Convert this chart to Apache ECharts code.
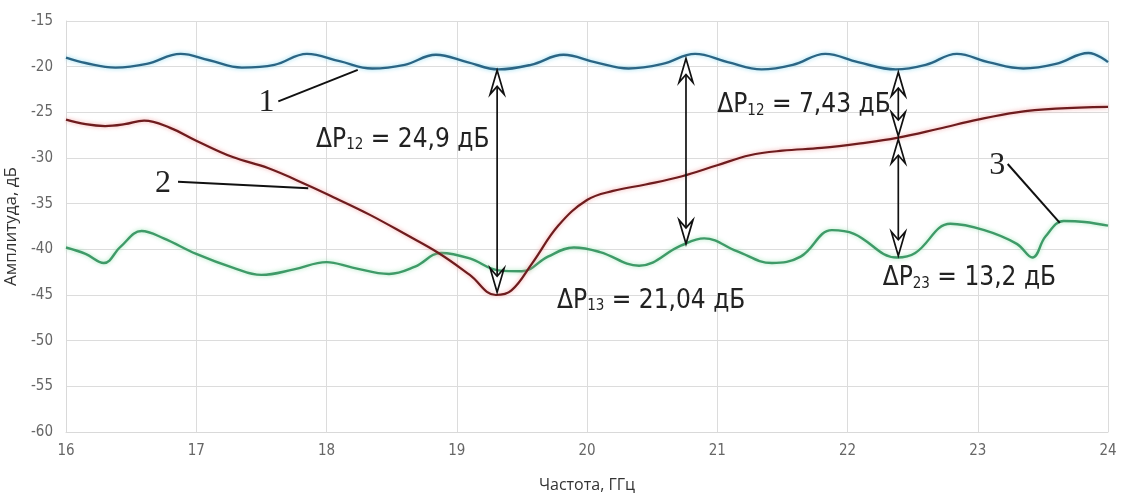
<!DOCTYPE html>
<html><head><meta charset="utf-8">
<script src="https://cdn.jsdelivr.net/npm/echarts@6/dist/echarts.min.js"></script>
<style>html,body{margin:0;padding:0;background:#fff}#c{width:1123px;height:495px}</style>
</head><body><div id="c"></div>
<script>
// Curve 1 (blue)
const blueFreq=[16.0,16.15,16.38,16.62,16.88,17.1,17.35,17.6,17.85,18.1,18.35,18.6,18.84,19.08,19.32,19.57,19.82,20.06,20.32,20.58,20.83,21.08,21.34,21.58,21.83,22.08,22.37,22.6,22.84,23.08,23.35,23.6,23.85,24.0];
const blueAmp=[-19.0,-19.6,-20.1,-19.7,-18.6,-19.3,-20.1,-19.8,-18.6,-19.4,-20.2,-19.8,-18.7,-19.5,-20.3,-19.8,-18.7,-19.5,-20.2,-19.7,-18.6,-19.5,-20.3,-19.8,-18.6,-19.5,-20.3,-19.8,-18.6,-19.5,-20.2,-19.7,-18.5,-19.5];
// Curve 2 (red)
const redFreq=[16.0,16.15,16.3,16.45,16.6,16.8,17.0,17.28,17.55,17.86,18.07,18.33,18.6,18.86,19.1,19.3,19.42,19.58,19.78,20.0,20.2,20.45,20.73,21.0,21.25,21.5,21.8,22.1,22.38,22.7,23.0,23.3,23.6,24.0];
const redAmp=[-25.8,-26.3,-26.5,-26.3,-25.9,-26.7,-28.1,-29.9,-31.1,-33.0,-34.4,-36.2,-38.3,-40.4,-42.8,-45.0,-44.5,-41.5,-37.4,-34.6,-33.6,-32.9,-32.0,-30.8,-29.7,-29.2,-28.9,-28.4,-27.8,-26.8,-25.8,-25.0,-24.6,-24.4];
// Curve 3 (green)
const greenFreq=[16.0,16.15,16.29,16.42,16.58,16.75,17.0,17.28,17.5,17.75,18.0,18.2,18.48,18.68,18.88,19.1,19.32,19.5,19.7,19.9,20.1,20.4,20.72,20.9,21.15,21.42,21.64,21.88,22.05,22.38,22.52,22.79,23.05,23.3,23.42,23.52,23.66,23.82,24.0];
const greenAmp=[-39.8,-40.5,-41.5,-39.7,-38.0,-38.8,-40.5,-42.0,-42.8,-42.2,-41.4,-42.0,-42.7,-41.9,-40.4,-41.0,-42.3,-42.4,-40.8,-39.8,-40.3,-41.8,-39.6,-38.8,-40.2,-41.5,-40.8,-37.9,-38.3,-40.9,-40.4,-37.2,-37.9,-39.4,-40.9,-38.6,-36.9,-37.0,-37.4];

// Measurement arrows
const arrowX=[19.31,20.76,22.39,22.39];
const arrowTop=[-20.4,-19.1,-20.6,-27.95];
const arrowBottom=[-44.7,-39.4,-27.6,-40.7];

// Measurement labels
const labelSub=['12','12','13','23'];
const labelValue=[' = 24,9 дБ',' = 7,43 дБ',' = 21,04 дБ',' = 13,2 дБ'];
const labelX=[17.92,21.0,19.77,22.27];
const labelY=[-27.9,-24.1,-45.55,-43.1];

// Curve numbers with leaders
const numText=['1','2','3'];
const numX=[17.54,16.745,23.15];
const numY=[-23.9,-32.85,-30.8];
const leadX1=[17.63,16.86,23.23], leadY1=[-23.8,-32.6,-30.66];
const leadX2=[18.24,17.86,23.63], leadY2=[-20.35,-33.3,-37.1];

const zip=(a,b)=>a.map((v,i)=>[v,b[i]]);
const chart=echarts.init(document.getElementById('c'));
const condensed='"Liberation Sans Narrow","DejaVu Sans Condensed","Open Sans",sans-serif';

function head(x,y,dir){ // dir=-1 up, +1 down
  return {type:'polygon',shape:{points:[[x,y],[x-7,y-dir*24],[x,y-dir*16],[x+7,y-dir*24]]},
    style:{fill:'rgba(255,255,255,0.7)',stroke:'#111',lineWidth:1.7}};
}

const arrowData=arrowX.map((x,i)=>[x,arrowTop[i],arrowBottom[i]]);
const labelData=labelX.map((x,i)=>[x,labelY[i],i]);
const numData=numX.map((x,i)=>[x,numY[i],i]);

chart.setOption({
  animation:false,
  grid:{left:66,right:15,top:21,bottom:63,outerBoundsMode:'none',containLabel:false},
  xAxis:{type:'value',min:16,max:24,interval:1,
    name:'Частота, ГГц',nameLocation:'middle',nameGap:45,nameMoveOverlap:false,
    nameTextStyle:{fontFamily:'"Open Sans",sans-serif',fontSize:16,color:'#333'},
    axisLine:{show:true,lineStyle:{color:'#d9d9d9'}},axisTick:{show:false},
    axisLabel:{color:'#666',fontSize:15,fontFamily:condensed,margin:12},
    splitLine:{show:true,lineStyle:{color:'#dcdcdc',width:1}}},
  yAxis:{type:'value',min:-60,max:-15,interval:5,
    name:'Амплитуда, дБ',nameLocation:'middle',nameGap:46,nameMoveOverlap:false,
    nameTextStyle:{fontFamily:'"Open Sans",sans-serif',fontSize:17,color:'#333'},
    axisLine:{show:true,lineStyle:{color:'#d9d9d9'}},axisTick:{show:false},
    axisLabel:{color:'#666',fontSize:15,fontFamily:condensed,margin:13},
    splitLine:{show:true,lineStyle:{color:'#dcdcdc',width:1}}},
  series:[
    {type:'line',data:zip(greenFreq,greenAmp),smooth:0.4,symbol:'none',
      lineStyle:{color:'#3f9a68',width:2.4,shadowColor:'rgba(140,225,170,0.8)',shadowBlur:4}},
    {type:'line',data:zip(redFreq,redAmp),smooth:0.4,symbol:'none',
      lineStyle:{color:'#6e1c1e',width:2.2,shadowColor:'rgba(240,140,140,0.8)',shadowBlur:4}},
    {type:'line',data:zip(blueFreq,blueAmp),smooth:0.4,symbol:'none',
      lineStyle:{color:'#2b6584',width:2.4,shadowColor:'rgba(130,215,240,0.9)',shadowBlur:4}},
    {type:'custom',coordinateSystem:'cartesian2d',clip:false,z:10,data:arrowData,
      encode:{x:0,y:[1,2]},
      renderItem:function(params,api){
        const t=api.coord([api.value(0),api.value(1)]);
        const b=api.coord([api.value(0),api.value(2)]);
        return {type:'group',children:[
          {type:'line',shape:{x1:t[0],y1:t[1]+16,x2:b[0],y2:b[1]-16},style:{stroke:'#111',lineWidth:1.7}},
          head(t[0],t[1],-1),head(b[0],b[1],1)]};
      }},
    {type:'custom',coordinateSystem:'cartesian2d',clip:false,z:11,data:labelData,
      encode:{x:0,y:1},
      renderItem:function(params,api){
        const p=api.coord([api.value(0),api.value(1)]);
        const i=api.value(2);
        return {type:'text',x:p[0],y:p[1],style:{
          text:'{a|ΔP}{s|'+labelSub[i]+'}{a|'+labelValue[i]+'}',
          align:'left',verticalAlign:'middle',
          rich:{a:{fontFamily:condensed,fontSize:26,fill:'#222',verticalAlign:'bottom',lineHeight:28},
                s:{fontFamily:condensed,fontSize:15,fill:'#222',verticalAlign:'bottom',lineHeight:23}}}};
      }},
    {type:'custom',coordinateSystem:'cartesian2d',clip:false,z:11,data:numData,
      encode:{x:0,y:1},
      renderItem:function(params,api){
        const i=api.value(2);
        const p=api.coord([api.value(0),api.value(1)]);
        const a=api.coord([leadX1[i],leadY1[i]]);
        const b=api.coord([leadX2[i],leadY2[i]]);
        return {type:'group',children:[
          {type:'line',shape:{x1:a[0],y1:a[1],x2:b[0],y2:b[1]},style:{stroke:'#111',lineWidth:2}},
          {type:'text',x:p[0],y:p[1],style:{text:numText[i],align:'center',verticalAlign:'middle',
            fontFamily:'"Liberation Serif","DejaVu Serif",serif',fontSize:32,fill:'#222'}}]};
      }}
  ]
});
</script></body></html>
